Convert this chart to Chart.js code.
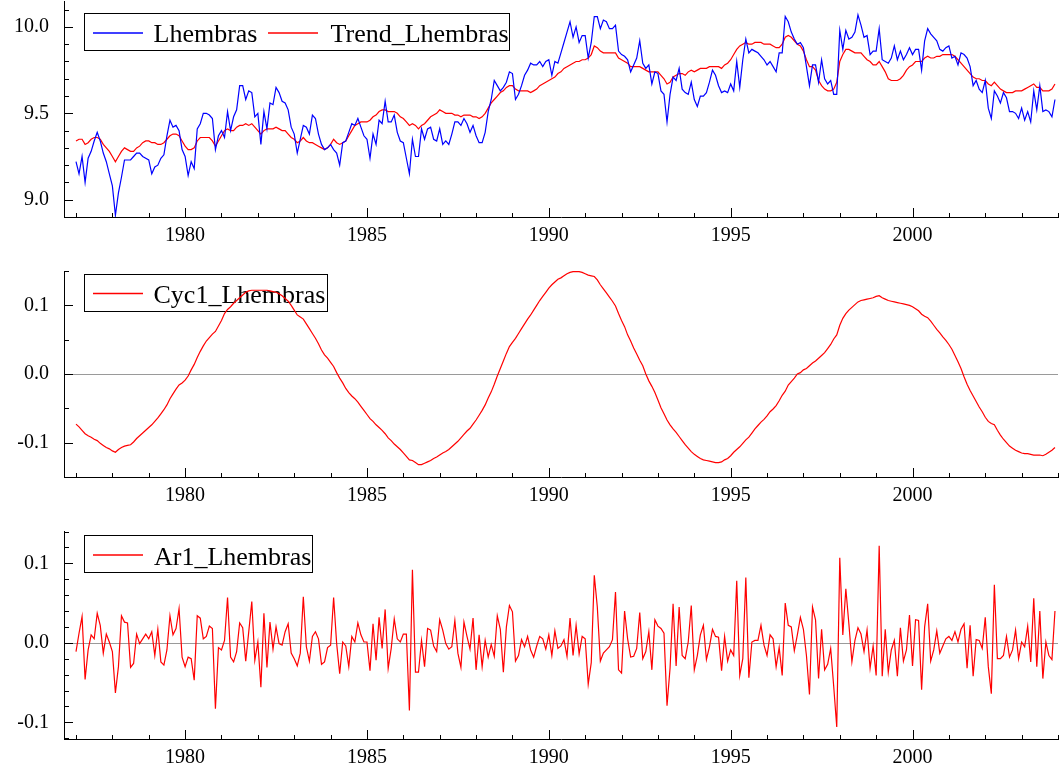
<!DOCTYPE html>
<html lang="en">
<head>
<meta charset="UTF-8" />
<title>Lhembras: trend, cycle and AR(1) components</title>
<script src="https://cdn.jsdelivr.net/npm/chart.js"></script>
<style>
  body { margin: 0; background: #fff; }
  canvas { position: absolute; left: 0; }
  #c1 { top: 0; }
  #c2 { top: 260px; }
  #c3 { top: 520px; }
</style>
</head>
<body>
<canvas id="c1" width="1059" height="260"></canvas>
<canvas id="c2" width="1059" height="260"></canvas>
<canvas id="c3" width="1059" height="249"></canvas>
<script>
// monthly observations, 1977:1 - 2003:12 (one row per year)
const startYear = 1977;

const lhembras = [
  9.22, 9.15, 9.25, 9.10, 9.24, 9.28, 9.34, 9.39, 9.34, 9.27, 9.22, 9.15,
  9.08, 8.91, 9.04, 9.13, 9.23, 9.23, 9.23, 9.25, 9.27, 9.27, 9.25, 9.24,
  9.23, 9.15, 9.19, 9.20, 9.24, 9.26, 9.37, 9.46, 9.42, 9.43, 9.40, 9.29,
  9.25, 9.14, 9.22, 9.18, 9.41, 9.44, 9.50, 9.50, 9.49, 9.47, 9.29, 9.37,
  9.40, 9.36, 9.51, 9.40, 9.48, 9.52, 9.66, 9.66, 9.58, 9.63, 9.62, 9.48,
  9.50, 9.32, 9.51, 9.41, 9.56, 9.55, 9.65, 9.62, 9.57, 9.56, 9.52, 9.42,
  9.38, 9.27, 9.35, 9.43, 9.42, 9.38, 9.49, 9.47, 9.38, 9.32, 9.29, 9.30,
  9.32, 9.29, 9.27, 9.20, 9.33, 9.34, 9.39, 9.44, 9.43, 9.47, 9.42, 9.37,
  9.35, 9.24, 9.38, 9.32, 9.46, 9.44, 9.57, 9.45, 9.45, 9.49, 9.39, 9.34,
  9.33, 9.24, 9.15, 9.35, 9.25, 9.25, 9.41, 9.35, 9.41, 9.42, 9.35, 9.34,
  9.41, 9.32, 9.34, 9.32, 9.38, 9.45, 9.45, 9.43, 9.47, 9.44, 9.39, 9.43,
  9.37, 9.33, 9.33, 9.39, 9.51, 9.58, 9.69, 9.66, 9.63, 9.65, 9.68, 9.74,
  9.73, 9.58, 9.61, 9.66, 9.72, 9.75, 9.79, 9.78, 9.78, 9.80, 9.77, 9.80,
  9.81, 9.72, 9.80, 9.79, 9.85, 9.91, 9.97, 10.03, 9.94, 10.00, 9.91, 9.95,
  9.95, 9.82, 9.91, 10.06, 10.06, 9.99, 10.04, 10.03, 9.99, 9.99, 10.01, 9.86,
  9.84, 9.83, 9.81, 9.74, 9.78, 9.82, 9.92, 9.79, 9.76, 9.78, 9.67, 9.74,
  9.73, 9.63, 9.61, 9.45, 9.61, 9.71, 9.69, 9.76, 9.64, 9.62, 9.61, 9.68,
  9.58, 9.54, 9.60, 9.60, 9.62, 9.68, 9.75, 9.72, 9.66, 9.62, 9.63, 9.62,
  9.67, 9.63, 9.80, 9.65, 9.81, 9.93, 9.85, 9.87, 9.86, 9.85, 9.83, 9.81,
  9.78, 9.80, 9.77, 9.74, 9.85, 9.85, 10.06, 10.03, 9.97, 9.93, 9.90, 9.91,
  9.88, 9.77, 9.66, 9.78, 9.78, 9.68, 9.81, 9.70, 9.67, 9.69, 9.61, 9.61,
  9.98, 9.87, 9.98, 9.93, 9.94, 9.97, 10.07, 10.01, 9.94, 9.95, 9.84, 9.86,
  9.86, 9.99, 9.81, 9.80, 9.79, 9.82, 9.89, 9.81, 9.86, 9.81, 9.84, 9.88,
  9.84, 9.87, 9.87, 9.75, 9.92, 9.99, 9.96, 9.94, 9.92, 9.87, 9.86, 9.88,
  9.89, 9.82, 9.83, 9.78, 9.85, 9.84, 9.82, 9.77, 9.66, 9.69, 9.64, 9.62,
  9.69, 9.53, 9.47, 9.63, 9.60, 9.56, 9.62, 9.59, 9.51, 9.51, 9.50, 9.47,
  9.53, 9.46, 9.51, 9.45, 9.63, 9.52, 9.66, 9.51, 9.52, 9.51, 9.48, 9.58
];

const trendLhembras = [
  9.34, 9.35, 9.35, 9.32, 9.33, 9.35, 9.36, 9.36, 9.35, 9.32, 9.30, 9.28,
  9.25, 9.22, 9.25, 9.28, 9.30, 9.29, 9.28, 9.28, 9.30, 9.31, 9.33, 9.34,
  9.34, 9.33, 9.33, 9.32, 9.32, 9.33, 9.35, 9.37, 9.38, 9.38, 9.37, 9.34,
  9.31, 9.29, 9.29, 9.30, 9.34, 9.36, 9.36, 9.36, 9.36, 9.34, 9.31, 9.34,
  9.37, 9.40, 9.41, 9.40, 9.40, 9.42, 9.43, 9.43, 9.44, 9.43, 9.44, 9.42,
  9.40, 9.38, 9.40, 9.41, 9.41, 9.41, 9.42, 9.41, 9.40, 9.40, 9.38, 9.36,
  9.35, 9.33, 9.34, 9.36, 9.34, 9.33, 9.33, 9.32, 9.31, 9.30, 9.29, 9.30,
  9.32, 9.35, 9.33, 9.32, 9.33, 9.34, 9.37, 9.40, 9.43, 9.44, 9.45, 9.45,
  9.45, 9.46, 9.48, 9.49, 9.51, 9.52, 9.52, 9.51, 9.51, 9.51, 9.50, 9.48,
  9.47, 9.45, 9.43, 9.44, 9.43, 9.41, 9.43, 9.44, 9.46, 9.48, 9.49, 9.50,
  9.52, 9.51, 9.50, 9.50, 9.50, 9.49, 9.49, 9.48, 9.49, 9.49, 9.49, 9.48,
  9.48, 9.47, 9.48, 9.50, 9.53, 9.56, 9.58, 9.60, 9.62, 9.63, 9.65, 9.66,
  9.66, 9.64, 9.63, 9.63, 9.63, 9.63, 9.62, 9.63, 9.64, 9.66, 9.67, 9.68,
  9.69, 9.70, 9.71, 9.73, 9.74, 9.76, 9.77, 9.78, 9.79, 9.80, 9.80, 9.81,
  9.81, 9.82, 9.84, 9.89, 9.88, 9.86, 9.85, 9.85, 9.85, 9.85, 9.85, 9.82,
  9.81, 9.80, 9.79, 9.77, 9.77, 9.77, 9.77, 9.76, 9.75, 9.74, 9.74, 9.74,
  9.74, 9.72, 9.70, 9.67, 9.68, 9.71, 9.72, 9.73, 9.73, 9.72, 9.74, 9.75,
  9.74, 9.75, 9.76, 9.76, 9.76, 9.77, 9.77, 9.77, 9.77, 9.76, 9.78, 9.79,
  9.81, 9.84, 9.87, 9.89, 9.90, 9.91, 9.90, 9.90, 9.91, 9.91, 9.91, 9.90,
  9.90, 9.90, 9.89, 9.88, 9.88, 9.90, 9.94, 9.95, 9.94, 9.92, 9.90, 9.89,
  9.86, 9.81, 9.77, 9.77, 9.75, 9.69, 9.66, 9.64, 9.63, 9.63, 9.64, 9.68,
  9.80, 9.84, 9.87, 9.87, 9.86, 9.85, 9.85, 9.85, 9.83, 9.81, 9.80, 9.78,
  9.78, 9.80, 9.77, 9.74, 9.70, 9.69, 9.69, 9.69, 9.70, 9.72, 9.75, 9.77,
  9.78, 9.80, 9.80, 9.80, 9.82, 9.83, 9.82, 9.82, 9.83, 9.83, 9.84, 9.84,
  9.84, 9.84, 9.83, 9.81, 9.79, 9.77, 9.75, 9.73, 9.71, 9.70, 9.70, 9.69,
  9.69, 9.67, 9.66, 9.68, 9.66, 9.64, 9.63, 9.62, 9.62, 9.62, 9.63, 9.63,
  9.63, 9.64, 9.65, 9.66, 9.67, 9.65, 9.65, 9.63, 9.63, 9.63, 9.64, 9.67
];

const cyc1Lhembras = [
  -0.073, -0.077, -0.082, -0.087, -0.090, -0.092, -0.095, -0.097, -0.101, -0.104, -0.107, -0.109,
  -0.112, -0.114, -0.110, -0.107, -0.105, -0.104, -0.103, -0.099, -0.094, -0.090, -0.086, -0.082,
  -0.078, -0.074, -0.069, -0.064, -0.058, -0.052, -0.045, -0.036, -0.029, -0.022, -0.016, -0.013,
  -0.009, -0.003, 0.006, 0.014, 0.024, 0.033, 0.041, 0.048, 0.053, 0.058, 0.062, 0.070,
  0.078, 0.088, 0.094, 0.098, 0.103, 0.107, 0.111, 0.115, 0.119, 0.121, 0.122, 0.122,
  0.122, 0.122, 0.122, 0.122, 0.121, 0.120, 0.119, 0.117, 0.114, 0.110, 0.106, 0.100,
  0.093, 0.086, 0.083, 0.080, 0.073, 0.066, 0.059, 0.052, 0.044, 0.035, 0.028, 0.023,
  0.017, 0.011, 0.002, -0.006, -0.013, -0.021, -0.027, -0.032, -0.036, -0.041, -0.047, -0.053,
  -0.059, -0.065, -0.069, -0.074, -0.078, -0.082, -0.087, -0.093, -0.097, -0.102, -0.106, -0.110,
  -0.115, -0.120, -0.125, -0.126, -0.129, -0.132, -0.132, -0.130, -0.128, -0.126, -0.123, -0.121,
  -0.118, -0.115, -0.113, -0.110, -0.106, -0.102, -0.098, -0.093, -0.088, -0.083, -0.079, -0.073,
  -0.067, -0.060, -0.053, -0.045, -0.035, -0.026, -0.015, -0.003, 0.008, 0.019, 0.030, 0.040,
  0.046, 0.052, 0.059, 0.066, 0.073, 0.080, 0.086, 0.093, 0.100, 0.107, 0.113, 0.119,
  0.125, 0.130, 0.134, 0.138, 0.140, 0.143, 0.146, 0.148, 0.149, 0.149, 0.149, 0.148,
  0.146, 0.144, 0.143, 0.142, 0.137, 0.130, 0.124, 0.118, 0.112, 0.106, 0.099, 0.088,
  0.078, 0.069, 0.057, 0.048, 0.038, 0.029, 0.020, 0.012, 0.000, -0.010, -0.018, -0.027,
  -0.038, -0.049, -0.058, -0.067, -0.074, -0.080, -0.085, -0.091, -0.097, -0.103, -0.108, -0.113,
  -0.117, -0.120, -0.123, -0.125, -0.126, -0.127, -0.128, -0.129, -0.129, -0.128, -0.125, -0.123,
  -0.119, -0.114, -0.110, -0.106, -0.101, -0.096, -0.092, -0.086, -0.080, -0.075, -0.070, -0.066,
  -0.061, -0.055, -0.051, -0.046, -0.039, -0.031, -0.025, -0.016, -0.011, -0.006, 0.000, 0.002,
  0.006, 0.008, 0.012, 0.016, 0.019, 0.023, 0.027, 0.031, 0.037, 0.043, 0.051, 0.057,
  0.071, 0.081, 0.088, 0.093, 0.097, 0.101, 0.105, 0.107, 0.108, 0.109, 0.110, 0.111,
  0.113, 0.114, 0.111, 0.109, 0.107, 0.106, 0.105, 0.104, 0.103, 0.102, 0.101, 0.100,
  0.098, 0.095, 0.092, 0.087, 0.084, 0.082, 0.077, 0.071, 0.065, 0.060, 0.054, 0.049,
  0.043, 0.036, 0.027, 0.018, 0.008, -0.004, -0.015, -0.024, -0.032, -0.040, -0.048, -0.055,
  -0.063, -0.069, -0.072, -0.074, -0.082, -0.089, -0.095, -0.100, -0.105, -0.108, -0.111, -0.113,
  -0.115, -0.116, -0.116, -0.117, -0.118, -0.118, -0.118, -0.119, -0.117, -0.114, -0.111, -0.107
];

const ar1Lhembras = [
  -0.011, 0.012, 0.033, -0.046, -0.009, 0.010, 0.005, 0.037, 0.022, -0.013, 0.011, 0.001,
  -0.011, -0.063, -0.030, 0.034, 0.026, 0.025, -0.031, -0.026, 0.011, -0.001, 0.005, 0.011,
  0.005, 0.014, -0.016, 0.017, -0.024, -0.028, -0.009, 0.034, 0.010, 0.018, 0.043, -0.018,
  -0.030, -0.018, -0.020, -0.047, 0.034, 0.031, 0.005, 0.008, 0.021, 0.018, -0.083, -0.006,
  -0.009, 0.003, 0.057, -0.018, -0.024, -0.011, 0.025, 0.019, -0.023, 0.014, 0.052, -0.022,
  0.001, -0.056, 0.037, -0.031, 0.026, -0.008, 0.020, -0.001, -0.003, 0.014, 0.024, -0.013,
  -0.020, -0.029, -0.013, 0.058, -0.005, -0.023, 0.008, 0.014, 0.005, -0.027, -0.024, -0.006,
  -0.003, 0.057, -0.001, -0.039, 0.001, -0.004, -0.030, 0.008, 0.001, 0.025, 0.010, 0.001,
  0.001, -0.035, 0.024, -0.022, 0.032, -0.007, 0.042, -0.032, -0.007, 0.030, 0.005, 0.001,
  0.011, 0.011, -0.085, 0.092, -0.037, -0.037, 0.003, -0.030, 0.018, 0.016, -0.004, -0.011,
  0.029, 0.016, -0.001, -0.008, -0.005, 0.028, -0.013, -0.031, 0.026, 0.008, -0.008, 0.031,
  -0.034, 0.010, -0.030, 0.003, -0.018, -0.002, -0.017, 0.034, 0.017, -0.037, 0.020, 0.047,
  0.039, -0.023, -0.016, 0.004, -0.005, 0.008, -0.009, -0.018, -0.004, 0.008, 0.005, -0.008,
  0.010, -0.016, 0.015, -0.007, -0.004, 0.004, -0.017, 0.031, -0.016, 0.022, -0.014, 0.008,
  0.005, -0.052, -0.025, 0.085, 0.045, -0.023, -0.013, -0.009, -0.005, 0.004, 0.064, -0.034,
  -0.038, 0.040, 0.005, -0.018, -0.017, -0.007, 0.038, -0.020, -0.011, 0.014, -0.034, 0.029,
  0.021, 0.018, 0.012, -0.079, -0.032, 0.049, -0.029, 0.045, -0.016, -0.020, 0.001, 0.047,
  -0.034, -0.016, 0.010, 0.022, -0.021, -0.005, 0.017, 0.008, 0.007, -0.035, 0.008, -0.023,
  -0.009, -0.016, 0.078, -0.041, -0.020, 0.082, -0.044, 0.001, 0.003, 0.003, 0.022, -0.003,
  -0.016, 0.010, 0.005, -0.030, -0.006, -0.041, 0.050, 0.022, 0.020, -0.010, 0.010, 0.032,
  0.017, -0.016, -0.065, 0.045, 0.029, -0.045, 0.017, -0.034, -0.027, -0.007, -0.055, -0.106,
  0.107, 0.010, 0.068, 0.024, -0.024, 0.003, 0.019, 0.011, -0.011, 0.016, -0.032, -0.004,
  -0.041, 0.122, -0.042, 0.017, -0.037, -0.009, 0.003, -0.042, 0.019, -0.023, -0.009, 0.035,
  -0.029, 0.029, 0.028, -0.059, 0.020, 0.049, -0.023, -0.009, 0.015, -0.013, -0.004, 0.005,
  0.008, 0.003, 0.014, 0.001, 0.017, 0.024, -0.032, 0.022, -0.042, 0.004, 0.003, -0.007,
  0.032, -0.030, -0.064, 0.073, -0.020, -0.020, -0.016, 0.008, -0.018, -0.009, 0.016, -0.020,
  0.001, -0.005, 0.021, -0.024, 0.056, -0.030, 0.040, -0.045, 0.001, -0.016, -0.021, 0.040
];

// axis ticks: labelled years every 5, minor tick every year
const xMin = 1976.67, xMax = 2004;
const yearLabelStep = 5;

// time position of each monthly observation
const dates = lhembras.map((_, i) => startYear + i / 12);

const FONT = '"Liberation Serif", "Times New Roman", serif';
const BLUE = '#0000ff', RED = '#ff0000';

const isMultiple = (v, step) => Math.abs(v / step - Math.round(v / step)) < 1e-6;

// inward tick marks on the bottom and left axes
const tickMarks = {
  id: 'tickMarks',
  afterDraw(chart, args, opts) {
    const { ctx, chartArea: a, scales: { x, y } } = chart;
    ctx.save();
    ctx.strokeStyle = '#000';
    ctx.lineWidth = 1;
    ctx.beginPath();
    x.ticks.forEach(t => {
      const px = Math.round(x.getPixelForValue(t.value)) + 0.5;
      const len = isMultiple(t.value, yearLabelStep) ? 9 : 4;
      ctx.moveTo(px, a.bottom);
      ctx.lineTo(px, a.bottom - len);
    });
    y.ticks.forEach(t => {
      const py = Math.round(y.getPixelForValue(t.value)) + 0.5;
      const len = isMultiple(t.value, opts.major) ? 9 : 5;
      ctx.moveTo(a.left, py);
      ctx.lineTo(a.left + len, py);
    });
    ctx.stroke();
    ctx.restore();
  }
};

// grey reference line at zero
const zeroLine = {
  id: 'zeroLine',
  beforeDatasetsDraw(chart, args, opts) {
    if (!opts.show) return;
    const { ctx, chartArea: a, scales: { y } } = chart;
    const py = Math.round(y.getPixelForValue(0)) + 0.5;
    ctx.save();
    ctx.strokeStyle = '#9a9a9a';
    ctx.lineWidth = 1.2;
    ctx.beginPath();
    ctx.moveTo(a.left, py);
    ctx.lineTo(a.right, py);
    ctx.stroke();
    ctx.restore();
  }
};

// framed legend inside the plot, series lines drawn over it
const boxLegend = {
  id: 'boxLegend',
  beforeDatasetsDraw(chart, args, opts) {
    const { ctx } = chart;
    const [bx, by, bw, bh] = opts.box;
    ctx.save();
    ctx.fillStyle = '#fff';
    ctx.fillRect(bx, by, bw, bh);
    ctx.strokeStyle = '#000';
    ctx.lineWidth = 1;
    ctx.strokeRect(Math.round(bx) + 0.5, Math.round(by) + 0.5, Math.round(bw), Math.round(bh));
    ctx.font = '26px ' + FONT;
    ctx.textBaseline = 'alphabetic';
    ctx.textAlign = 'left';
    opts.items.forEach(it => {
      ctx.strokeStyle = it.color;
      ctx.lineWidth = 1.4;
      ctx.beginPath();
      ctx.moveTo(it.x0, opts.lineY);
      ctx.lineTo(it.x1, opts.lineY);
      ctx.stroke();
      ctx.fillStyle = '#000';
      ctx.fillText(it.text, it.tx, opts.baseY);
    });
    ctx.restore();
  }
};

function makePanel(id, cfg) {
  return new Chart(document.getElementById(id), {
    type: 'line',
    data: {
      datasets: cfg.series.map(s => ({
        label: s.label,
        data: s.values.map((v, i) => ({ x: dates[i], y: v })),
        borderColor: s.color,
        borderWidth: 1.2,
        pointRadius: 0,
        tension: 0,
        fill: false
      }))
    },
    options: {
      responsive: false,
      animation: false,
      devicePixelRatio: 1,
      layout: { padding: { top: cfg.top, right: 1, bottom: 0, left: 0 } },
      plugins: {
        legend: { display: false },
        tooltip: { enabled: false },
        tickMarks: { major: cfg.major },
        zeroLine: { show: cfg.zero },
        boxLegend: cfg.legend
      },
      scales: {
        x: {
          type: 'linear',
          min: xMin,
          max: xMax,
          // fixed band height, no extra room for end labels
          afterFit: s => { s.height = cfg.axisH; s.paddingLeft = 0; s.paddingRight = 0; },
          grid: { drawOnChartArea: false, drawTicks: false },
          border: { color: '#000', width: 1 },
          ticks: {
            stepSize: 1,
            includeBounds: false,
            autoSkip: false,
            maxRotation: 0,
            padding: 7,
            color: '#000',
            font: { family: FONT, size: 20 },
            callback: v => isMultiple(v, yearLabelStep) ? String(Math.round(v)) : ''
          }
        },
        y: {
          min: cfg.min,
          max: cfg.max,
          afterFit: s => { s.width = 64; s.paddingTop = 0; s.paddingBottom = 0; },
          grid: { drawOnChartArea: false, drawTicks: false },
          border: { color: '#000', width: 1 },
          ticks: {
            stepSize: cfg.minor,
            includeBounds: false,
            autoSkip: false,
            padding: 15,
            color: '#000',
            font: { family: FONT, size: 20 },
            callback: v => isMultiple(v, cfg.major) ? v.toFixed(1) : ''
          }
        }
      }
    },
    plugins: [zeroLine, boxLegend, tickMarks]
  });
}

makePanel('c1', {
  series: [
    { label: 'Lhembras', values: lhembras, color: BLUE },
    { label: 'Trend_Lhembras', values: trendLhembras, color: RED }
  ],
  min: 8.9, max: 10.15, minor: 0.1, major: 0.5,
  top: 1, axisH: 43, zero: false,
  legend: {
    box: [84, 12.5, 425, 36.5], lineY: 33, baseY: 41.5,
    items: [
      { text: 'Lhembras', color: BLUE, x0: 93, x1: 143, tx: 153.5 },
      { text: 'Trend_Lhembras', color: RED, x0: 268, x1: 318, tx: 330.5 }
    ]
  }
});

makePanel('c2', {
  series: [{ label: 'Cyc1_Lhembras', values: cyc1Lhembras, color: RED }],
  min: -0.15, max: 0.15, minor: 0.05, major: 0.1,
  top: 11, axisH: 43, zero: true,
  legend: {
    box: [84, 13.5, 242.5, 36.5], lineY: 33.5, baseY: 43.3,
    items: [{ text: 'Cyc1_Lhembras', color: RED, x0: 93, x1: 143, tx: 153.5 }]
  }
});

makePanel('c3', {
  series: [{ label: 'Ar1_Lhembras', values: ar1Lhembras, color: RED }],
  min: -0.121, max: 0.14, minor: 0.02, major: 0.1,
  top: 11.5, axisH: 30, zero: true,
  legend: {
    box: [84, 15, 227.5, 36.5], lineY: 35, baseY: 45,
    items: [{ text: 'Ar1_Lhembras', color: RED, x0: 93, x1: 143, tx: 154 }]
  }
});
</script>
</body>
</html>
